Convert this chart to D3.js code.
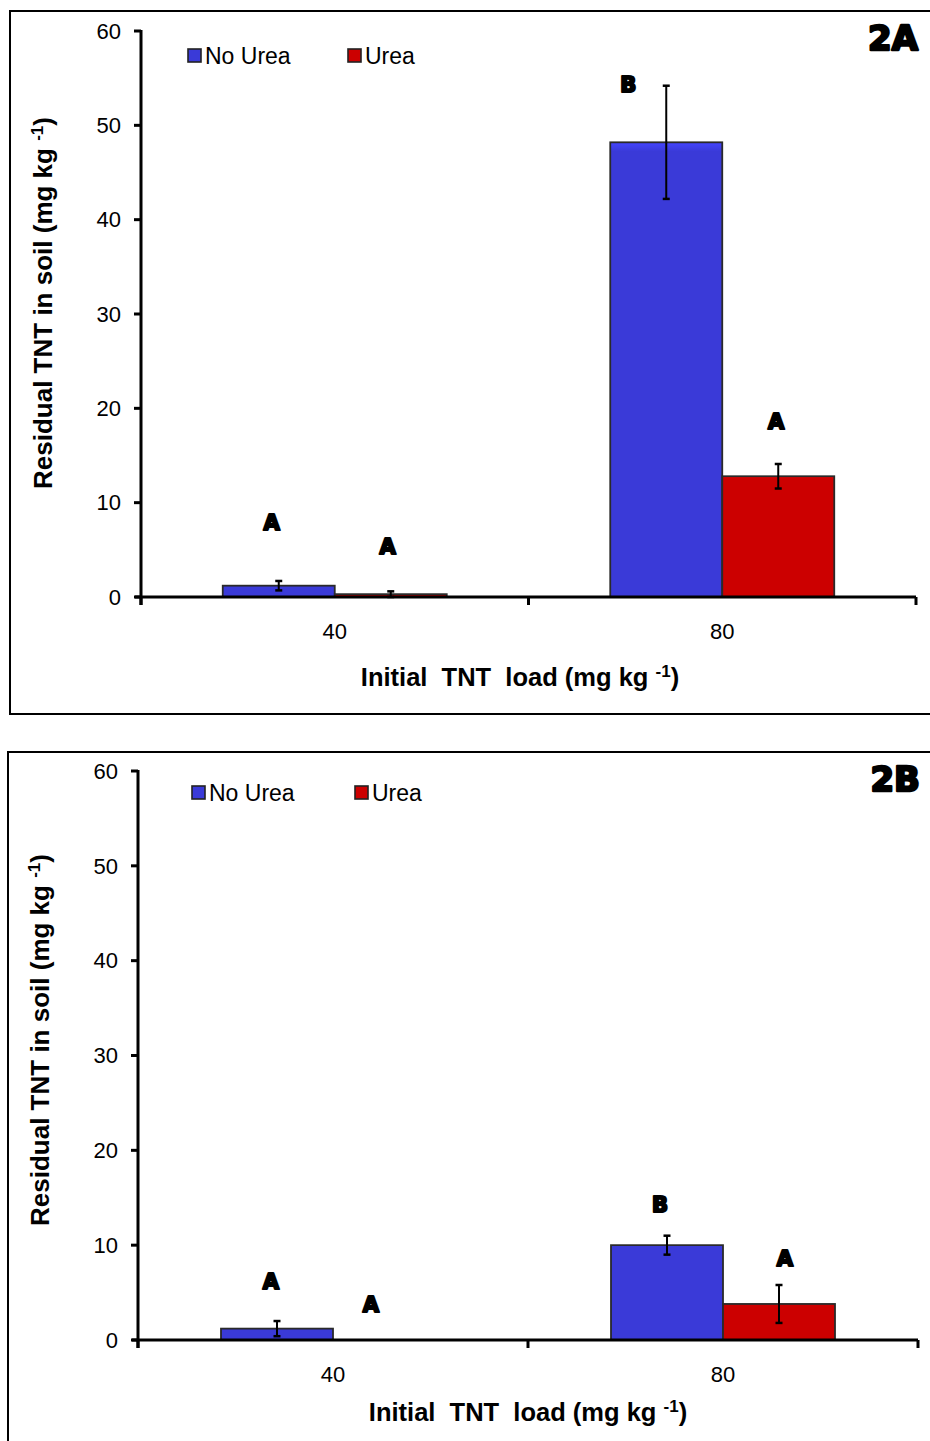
<!DOCTYPE html>
<html>
<head>
<meta charset="utf-8">
<script src="https://cdn.jsdelivr.net/npm/d3@7"></script>
<style>
  html, body { margin: 0; padding: 0; background: #fff; }
  svg { display: block; }
  text { font-family: "Liberation Sans", Arial, sans-serif; fill: #000; white-space: pre; }
</style>
</head>
<body>
<svg id="chart" width="930" height="1441"></svg>
<script>
// ---------- DATA ----------
const categories = ["40", "80"];
const seriesNames = ["No Urea", "Urea"];
const yTicks = [0, 10, 20, 30, 40, 50, 60];

// Panel 2A
const a_noUrea = [1.2, 48.2];
const a_noUreaErr = [0.5, 6.0];
const a_urea = [0.3, 12.8];
const a_ureaErr = [0.3, 1.3];
const a_noUreaLetters = ["A", "B"];
const a_ureaLetters = ["A", "A"];
const a_noUreaLetterAt = [7.9, 54.3];
const a_ureaLetterAt = [5.4, 18.6];

// Panel 2B
const b_noUrea = [1.2, 10.0];
const b_noUreaErr = [0.8, 1.0];
const b_urea = [0.0, 3.8];
const b_ureaErr = [0.0, 2.0];
const b_noUreaLetters = ["A", "B"];
const b_ureaLetters = ["A", "A"];
const b_noUreaLetterAt = [6.2, 14.3];
const b_ureaLetterAt = [3.8, 8.6];

const colors = ["#3a3ad8", "#cc0000"];

// ---------- DRAW ----------
const svg = d3.select("#chart");

const defs = svg.append("defs");
function grad(id, base) {
  const c = d3.color(base);
  const g = defs.append("linearGradient").attr("id", id)
    .attr("x1", 0).attr("y1", 0).attr("x2", 0).attr("y2", 1);
  g.append("stop").attr("offset", "0").attr("stop-color", c.brighter(0.5));
  g.append("stop").attr("offset", "0.02").attr("stop-color", base);
  g.append("stop").attr("offset", "1").attr("stop-color", base);
}
grad("g0", colors[0]);
grad("g1", colors[1]);

function drawPanel(cfg) {
  const g = svg.append("g");
  // frame
  g.append("path")
    .attr("d", `M${cfg.frame.x2},${cfg.frame.y1} H${cfg.frame.x1} V${cfg.frame.y2} H${cfg.frame.x2}`)
    .attr("fill", "none").attr("stroke", "#000").attr("stroke-width", 2);

  const x = d3.scaleBand().domain(categories).range([cfg.x0, cfg.x1]).padding(0);
  const y = d3.scaleLinear().domain([0, 60]).range([cfg.y0, cfg.y60]);
  const barW = cfg.barW;

  const series = [
    { vals: cfg.noUrea, err: cfg.noUreaErr, letters: cfg.noUreaLetters, at: cfg.noUreaLetterAt, dx: cfg.noUreaLetterDx, off: -barW, fill: "url(#g0)" },
    { vals: cfg.urea, err: cfg.ureaErr, letters: cfg.ureaLetters, at: cfg.ureaLetterAt, dx: cfg.ureaLetterDx, off: 0, fill: "url(#g1)" }
  ];

  series.forEach((s, si) => {
    const cx = i => x(categories[i]) + x.bandwidth() / 2 + s.off;
    // bars
    s.vals.forEach((v, i) => {
      if (v <= 0) return;
      g.append("rect")
        .attr("x", cx(i))
        .attr("y", y(v))
        .attr("width", barW)
        .attr("height", y(0) - y(v))
        .attr("fill", s.fill)
        .attr("stroke", "#2a2a2a").attr("stroke-width", 1.8);
    });
    // error bars
    s.vals.forEach((v, i) => {
      const e = s.err[i];
      if (e <= 0) return;
      const ex = cx(i) + barW / 2;
      g.append("line").attr("x1", ex).attr("x2", ex)
        .attr("y1", y(v + e)).attr("y2", y(Math.max(0, v - e)))
        .attr("stroke", "#000").attr("stroke-width", 2);
      [v + e, Math.max(0, v - e)].forEach(t => {
        g.append("line").attr("x1", ex - 3.5).attr("x2", ex + 3.5)
          .attr("y1", y(t)).attr("y2", y(t))
          .attr("stroke", "#000").attr("stroke-width", 2.5);
      });
    });
    // significance letters
    s.letters.forEach((L, i) => {
      g.append("text")
        .attr("x", cx(i) + barW / 2 + s.dx[i])
        .attr("y", y(s.at[i]))
        .attr("dy", "0.36em")
        .attr("text-anchor", "middle")
        .style("font-family", "'DejaVu Sans', sans-serif")
        .style("font-weight", "bold")
        .style("font-size", "21px")
        .style("stroke", "#000").style("stroke-width", 2.2)
        .style("stroke-linejoin", "round")
        .text(L);
    });
  });

  // axes
  g.append("line").attr("x1", cfg.x0 - 6).attr("x2", cfg.x1)
    .attr("y1", y(0)).attr("y2", y(0)).attr("stroke", "#000").attr("stroke-width", 3);
  g.append("line").attr("x1", cfg.x0).attr("x2", cfg.x0)
    .attr("y1", y(60) - 1).attr("y2", y(0) + 8).attr("stroke", "#000").attr("stroke-width", 3);
  yTicks.forEach(t => {
    g.append("line").attr("x1", cfg.x0 - 7).attr("x2", cfg.x0)
      .attr("y1", y(t)).attr("y2", y(t)).attr("stroke", "#000").attr("stroke-width", 3);
    g.append("text").attr("x", cfg.x0 - 20).attr("y", y(t)).attr("dy", "0.35em")
      .attr("text-anchor", "end").style("font-size", "22px").text(t);
  });
  [cfg.x0, ...categories.slice(1).map(c => x(c)), cfg.x1].forEach(px => {
    g.append("line").attr("x1", px).attr("x2", px)
      .attr("y1", y(0)).attr("y2", y(0) + 8).attr("stroke", "#000").attr("stroke-width", 3);
  });
  categories.forEach(c => {
    g.append("text").attr("x", x(c) + x.bandwidth() / 2).attr("y", y(0) + 42)
      .attr("text-anchor", "middle").style("font-size", "22px").text(c);
  });

  // axis titles
  const xt = g.append("text").attr("x", cfg.xTitle[0]).attr("y", cfg.xTitle[1])
    .attr("text-anchor", "middle").style("font-size", "25.5px").style("font-weight", "bold");
  xt.append("tspan").text("Initial  TNT  load (mg kg ");
  xt.append("tspan").attr("dy", -9).style("font-size", "17px").text("-1");
  xt.append("tspan").attr("dy", 9).text(")");

  const yt = g.append("text")
    .attr("transform", `translate(${cfg.yTitle[0]},${cfg.yTitle[1]}) rotate(-90)`)
    .attr("text-anchor", "middle").style("font-size", "26px").style("font-weight", "bold");
  yt.append("tspan").text("Residual TNT in soil (mg kg ");
  yt.append("tspan").attr("dy", -9).style("font-size", "17px").text("-1");
  yt.append("tspan").attr("dy", 9).text(")");

  // legend
  seriesNames.forEach((n, i) => {
    const lx = cfg.legend[i];
    g.append("rect").attr("x", lx).attr("y", cfg.legendY - 7).attr("width", 13).attr("height", 13)
      .attr("fill", colors[i]).attr("stroke", "#222").attr("stroke-width", 1.6);
    g.append("text").attr("x", lx + 17).attr("y", cfg.legendY).attr("dy", "0.36em")
      .style("font-size", "23px").text(n);
  });

  // panel label
  g.append("text").attr("x", cfg.label[0]).attr("y", cfg.label[1])
    .attr("text-anchor", "end")
    .style("font-family", "'DejaVu Sans', sans-serif")
    .style("font-weight", "bold").style("font-size", "34px")
    .style("stroke", "#000").style("stroke-width", 2.4).style("stroke-linejoin", "round")
    .text(cfg.labelText);
}

drawPanel({
  frame: { x1: 10, y1: 11, x2: 935, y2: 714 },
  x0: 141, x1: 916, y0: 597, y60: 31, barW: 112,
  noUrea: a_noUrea, noUreaErr: a_noUreaErr, urea: a_urea, ureaErr: a_ureaErr,
  noUreaLetters: a_noUreaLetters, ureaLetters: a_ureaLetters,
  noUreaLetterAt: a_noUreaLetterAt, ureaLetterAt: a_ureaLetterAt,
  noUreaLetterDx: [-7, -38], ureaLetterDx: [-3, -2],
  xTitle: [520, 686], yTitle: [52, 303],
  legend: [188, 348], legendY: 56,
  label: [918, 50], labelText: "2A"
});

drawPanel({
  frame: { x1: 8, y1: 752, x2: 935, y2: 1450 },
  x0: 138, x1: 918, y0: 1340, y60: 771, barW: 112,
  noUrea: b_noUrea, noUreaErr: b_noUreaErr, urea: b_urea, ureaErr: b_ureaErr,
  noUreaLetters: b_noUreaLetters, ureaLetters: b_ureaLetters,
  noUreaLetterAt: b_noUreaLetterAt, ureaLetterAt: b_ureaLetterAt,
  noUreaLetterDx: [-6, -7], ureaLetterDx: [-18, 6],
  xTitle: [528, 1421], yTitle: [49, 1040],
  legend: [192, 355], legendY: 793,
  label: [920, 791], labelText: "2B"
});
</script>
</body>
</html>
